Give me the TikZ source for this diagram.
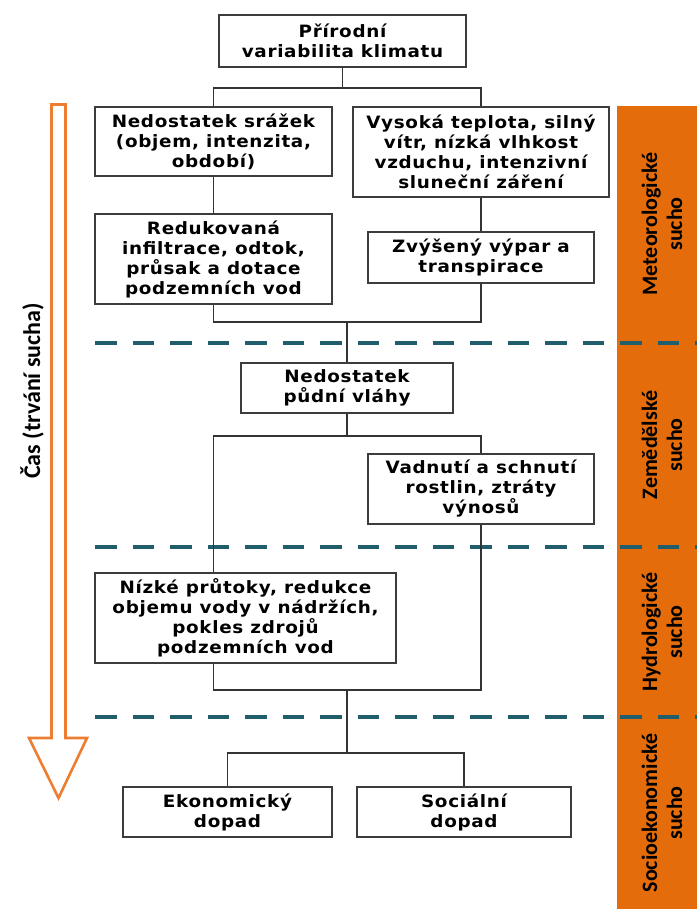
\documentclass[tikz,border=0pt]{standalone}
\usepackage{fontspec}
\setmainfont{DejaVu Sans}
\newfontfamily\boxfont[LetterSpace=4, FakeStretch=1.08]{DejaVu Sans}
\newfontfamily\barfont{Carlito}
\usetikzlibrary{positioning}
\definecolor{barorange}{HTML}{E46C0A}
\definecolor{arroworange}{HTML}{ED7D31}
\definecolor{phaseteal}{HTML}{215E6B}
\definecolor{boxgray}{HTML}{3C3C3C}

\begin{document}
\begin{tikzpicture}[x=1pt, y=-1pt,
main node/.style={rectangle, draw=boxgray, line width=1.4pt, fill=white, align=center, inner sep=0pt, font=\boxfont\bfseries\fontsize{17}{20}\selectfont},
link/.style={draw=black!80, line width=1.4pt},
phase line/.style={draw=phaseteal, line width=4pt, dash pattern=on 21.5pt off 16pt},
bar label/.style={rotate=90, align=center, font=\barfont\bfseries\fontsize{22}{25}\selectfont}]

\useasboundingbox (0,0) rectangle (697,909);

\fill[barorange] (617,106) rectangle (697,909);
\node[bar label] (met) at (662,224) {Meteorologické\\sucho};
\node[bar label] (zem) at (662,445) {Zemědělské\\sucho};
\node[bar label] (hyd) at (662,632) {Hydrologické\\sucho};
\node[bar label] (soc) at (662,813) {Socioekonomické\\sucho};

\draw[arroworange, line width=2.6pt] (51.5,104.5) -- (65.5,104.5) -- (65.5,738) -- (87,738)
  -- (58.5,798) -- (29,738) -- (51.5,738) -- cycle;
\node[bar label, font=\barfont\bfseries\fontsize{24}{28}\selectfont] (cas) at (32,391) {Čas (trvání sucha)};

\foreach \y in {343,547,717}
  \draw[phase line] (95,\y) -- (697,\y);

\node[main node, minimum width=247pt, minimum height=52pt] (T) at (342.5,41) {Přírodní\\variabilita klimatu};
\node[main node, minimum width=237pt, minimum height=69pt] (A) at (213.5,141.5) {Nedostatek srážek\\(objem, intenzita,\\období)};
\node[main node, minimum width=256pt, minimum height=90pt] (B) at (481,152) {Vysoká teplota, silný\\vítr, nízká vlhkost\\vzduchu, intenzivní\\sluneční záření};
\node[main node, minimum width=237pt, minimum height=90pt] (C) at (213.5,259) {Redukovaná\\infiltrace, odtok,\\průsak a dotace\\podzemních vod};
\node[main node, minimum width=226pt, minimum height=51pt] (D) at (481,257.5) {Zvýšený výpar a\\transpirace};
\node[main node, minimum width=212pt, minimum height=50pt] (E) at (347,388) {Nedostatek\\půdní vláhy};
\node[main node, minimum width=226pt, minimum height=70pt] (F) at (481,489) {Vadnutí a schnutí\\rostlin, ztráty\\výnosů};
\node[main node, minimum width=301pt, minimum height=90pt] (G) at (245.5,618) {Nízké průtoky, redukce\\objemu vody v nádržích,\\pokles zdrojů\\podzemních vod};
\node[main node, minimum width=209pt, minimum height=50pt] (H) at (227.5,812) {Ekonomický\\dopad};
\node[main node, minimum width=214pt, minimum height=50pt] (I) at (464,812) {Sociální\\dopad};

\coordinate (j1) at (342.5,88);
\coordinate (j2) at (347,322);
\coordinate (j3) at (347,436);
\coordinate (j4) at (347,690);
\coordinate (j5) at (347,753);

\draw[link] (T) -- (j1);
\draw[link] (A.north) |- (j1) -| (B.north);
\draw[link] (A) -- (C);
\draw[link] (B) -- (D);
\draw[link] (C.south) |- (j2) -| (D.south);
\draw[link] (j2) -- (E);
\draw[link] (E) -- (j3);
\draw[link] (G.north -| C.south) |- (j3) -| (F.north);
\draw[link] (G.south -| C.south) |- (j4) -| (F.south);
\draw[link] (j4) -- (j5);
\draw[link] (H.north) |- (j5) -| (I.north);
\end{tikzpicture}
\end{document}
